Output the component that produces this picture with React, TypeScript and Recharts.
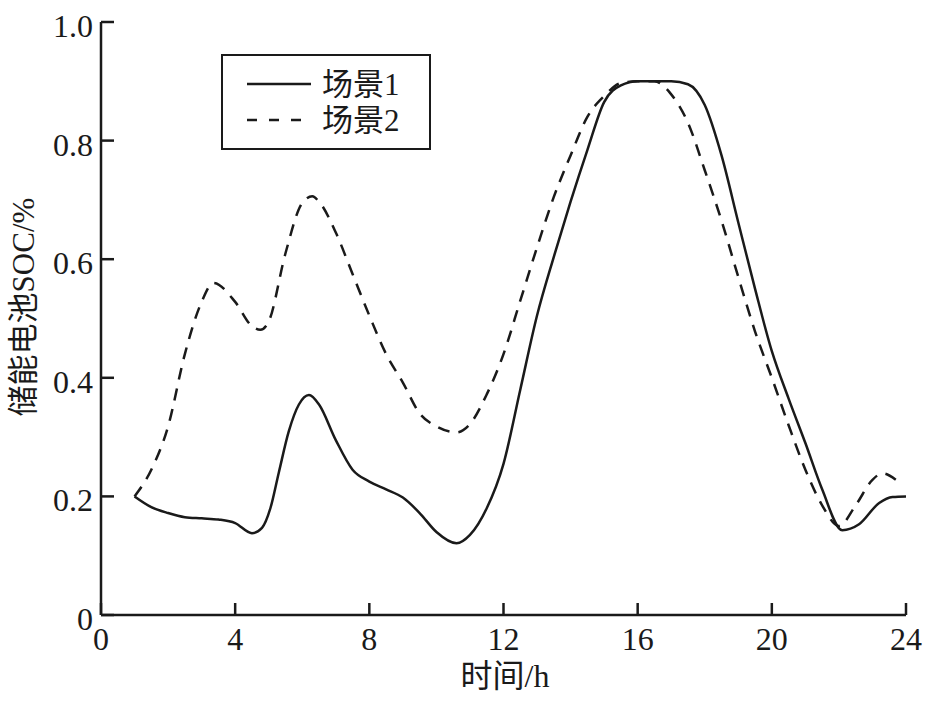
import { Label, Legend, Line, LineChart, XAxis, YAxis } from 'recharts'

// 场景1 (solid)
const hours1 = [
  1, 1.5, 2, 2.5, 3, 3.5, 4, 4.5, 4.8, 5.05, 5.3, 5.6, 5.9, 6.2, 6.5, 7, 7.5, 8, 8.5, 9, 9.5, 10,
  10.6, 11, 11.5, 12, 12.5, 13, 13.5, 14, 14.5, 15, 15.5, 16, 16.5, 17, 17.5, 18, 18.5, 19, 19.5,
  20, 20.5, 21, 21.5, 22.1, 22.6, 23.2, 23.6, 24,
]
const soc1 = [
  0.2, 0.182, 0.172, 0.165, 0.163, 0.161, 0.155, 0.138, 0.147, 0.18, 0.24, 0.31, 0.355, 0.371,
  0.355, 0.295, 0.245, 0.225, 0.212, 0.198, 0.172, 0.14, 0.121, 0.135, 0.18, 0.255, 0.38, 0.505,
  0.604, 0.697, 0.784, 0.865, 0.893, 0.9, 0.9, 0.9, 0.895, 0.86, 0.775, 0.662, 0.55, 0.445, 0.365,
  0.29, 0.212, 0.143, 0.153, 0.189, 0.199, 0.2,
]

// 场景2 (dashed)
const hours2 = [
  1, 1.5, 2, 2.5, 3, 3.35, 4, 4.5, 4.75, 5, 5.5, 6, 6.3, 6.5, 7, 7.5, 8, 8.5, 9, 9.5, 10, 10.6, 11,
  11.5, 12, 12.5, 13, 13.5, 14, 14.5, 15, 15.5, 16, 16.5, 17, 17.5, 18, 18.5, 19, 19.5, 20, 20.5,
  21, 21.5, 22, 22.5, 23, 23.3, 23.7,
]
const soc2 = [
  0.2, 0.245, 0.318, 0.44, 0.528, 0.56, 0.528, 0.487, 0.481, 0.495, 0.61, 0.695, 0.706, 0.697,
  0.645, 0.575, 0.505, 0.44, 0.392, 0.34, 0.318, 0.308, 0.322, 0.372, 0.44, 0.53, 0.62, 0.705,
  0.775, 0.84, 0.875, 0.897, 0.9, 0.9, 0.878, 0.83, 0.75, 0.665, 0.57, 0.478, 0.4, 0.32, 0.245,
  0.185, 0.15, 0.185, 0.228, 0.239, 0.228,
]

const xTicks = [0, 4, 8, 12, 16, 20, 24]
const yTicks = [0, 0.2, 0.4, 0.6, 0.8, 1.0]
const seriesNames = ['场景1', '场景2']

const data1 = hours1.map((h, i) => ({ h, v: soc1[i] }))
const data2 = hours2.map((h, i) => ({ h, v: soc2[i] }))

const INK = '#1a1a1a'
const NUM_FONT = '"Liberation Serif", "Noto Sans CJK SC", serif'

function XTick(props: any) {
  const { x, y, payload } = props
  return (
    <g>
      <line x1={x} x2={x} y1={y} y2={y - 12} stroke={INK} strokeWidth={2.5} />
      <text
        x={x}
        y={y + 24}
        textAnchor="middle"
        dominantBaseline="central"
        fontFamily={NUM_FONT}
        fontSize={32}
        fill={INK}
      >
        {payload.value}
      </text>
    </g>
  )
}

function YTick(props: any) {
  const { x, y, payload } = props
  const label = payload.value === 0 ? '0' : Number(payload.value).toFixed(1)
  return (
    <g>
      <line x1={x} x2={x + 13} y1={y} y2={y} stroke={INK} strokeWidth={2.5} />
      <text
        x={x - 8}
        y={y + 4}
        textAnchor="end"
        dominantBaseline="central"
        fontFamily={NUM_FONT}
        fontSize={32}
        fill={INK}
      >
        {label}
      </text>
    </g>
  )
}

function LegendBox() {
  return (
    <div
      style={{
        position: 'relative',
        width: 210,
        height: 96,
        border: `2px solid ${INK}`,
        background: '#fff',
        boxSizing: 'border-box',
        fontFamily: NUM_FONT,
        fontSize: 31,
        color: INK,
      }}
    >
      {seriesNames.map((name, i) => (
        <div
          key={name}
          style={{
            position: 'absolute',
            left: 0,
            top: 10 + i * 36,
            height: 36,
            display: 'flex',
            alignItems: 'center',
          }}
        >
          <svg width={99} height={20}>
            <line
              x1={24}
              x2={88}
              y1={10}
              y2={10}
              stroke={INK}
              strokeWidth={2.5}
              strokeDasharray={i === 1 ? '10 12' : undefined}
            />
          </svg>
          <span style={{ lineHeight: 1 }}>{name}</span>
        </div>
      ))}
    </div>
  )
}

export default function App() {
  return (
    <div style={{ position: 'absolute', left: 0, top: 0, background: '#fff' }}>
      <LineChart width={936} height={702} margin={{ top: 22, right: 30, bottom: 0, left: 0 }}>
        <XAxis
          type="number"
          dataKey="h"
          domain={[0, 24]}
          ticks={xTicks}
          height={87}
          tickSize={0}
          tickMargin={0}
          tickLine={false}
          tick={<XTick />}
          axisLine={{ stroke: INK, strokeWidth: 2.5 }}
          allowDataOverflow
        >
          <Label
            content={() => (
              <text
                x={505}
                y={676}
                textAnchor="middle"
                dominantBaseline="central"
                fontFamily={NUM_FONT}
                fontSize={32}
                fill={INK}
              >
                时间/h
              </text>
            )}
          />
        </XAxis>
        <YAxis
          type="number"
          domain={[0, 1]}
          ticks={yTicks}
          width={101}
          tickSize={0}
          tickMargin={0}
          tickLine={false}
          tick={<YTick />}
          axisLine={{ stroke: INK, strokeWidth: 2.5 }}
        >
          <Label
            content={() => (
              <text
                x={23}
                y={307}
                transform="rotate(-90 23 307)"
                textAnchor="middle"
                dominantBaseline="central"
                fontFamily={NUM_FONT}
                fontSize={31}
                fill={INK}
              >
                储能电池SOC/%
              </text>
            )}
          />
        </YAxis>
        <Legend
          layout="horizontal"
          verticalAlign="middle"
          align="center"
          content={<LegendBox />}
          wrapperStyle={{ position: 'absolute', left: 221, top: 54, width: 210, height: 96 }}
        />
        <Line
          data={data1}
          dataKey="v"
          name={seriesNames[0]}
          type="monotone"
          stroke={INK}
          strokeWidth={2.5}
          dot={false}
          activeDot={false}
          isAnimationActive={false}
        />
        <Line
          data={data2}
          dataKey="v"
          name={seriesNames[1]}
          type="monotone"
          stroke={INK}
          strokeWidth={2.5}
          strokeDasharray="12 9"
          dot={false}
          activeDot={false}
          isAnimationActive={false}
        />
      </LineChart>
    </div>
  )
}
